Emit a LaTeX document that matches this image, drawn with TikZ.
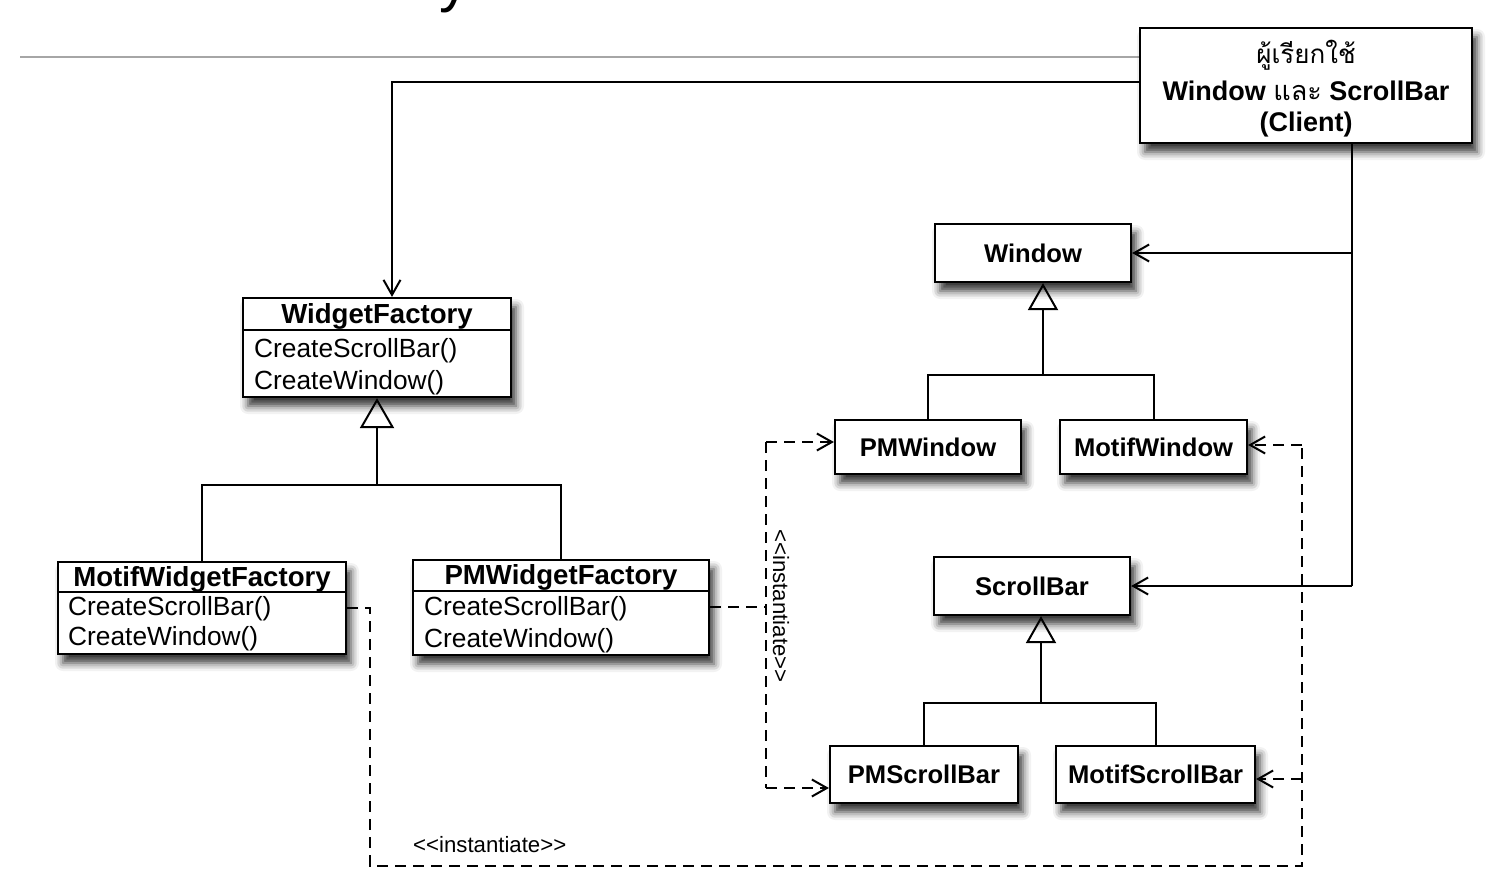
\documentclass[tikz,border=0pt]{standalone}
\usepackage{fontspec}
\setmainfont{Liberation Sans}
\newfontfamily\thaifont[Script=Thai]{Loma}
\usetikzlibrary{arrows.meta,shadows.blur}
\tikzset{
  boxshadow/.style={blur shadow={shadow xshift=5pt, shadow yshift=-9pt, shadow blur radius=8pt, shadow opacity=80}},
  cls/.style={draw=black, line width=2.2pt, fill=white, inner sep=0pt, boxshadow},
  clsname/.style={font=\bfseries\fontsize{25.6}{30}\selectfont, inner sep=0pt},
  ctitle/.style={font=\bfseries\fontsize{27.6}{30}\selectfont, inner sep=0pt},
  meth/.style={font=\fontsize{26.3}{30}\selectfont, inner sep=0pt, anchor=west},
  link/.style={line width=2pt},
  assoc/.style={line width=2pt, -{Straight Barb[length=15pt, width=17pt, line width=2pt]}},
  gen/.style={line width=2pt, -{Triangle[open, length=27pt, width=30pt, line width=2pt]}},
  genbig/.style={line width=2pt, -{Triangle[open, length=30pt, width=34pt, line width=2pt]}},
  dep/.style={line width=2pt, dash pattern=on 11pt off 7pt},
  deparrow/.style={dep, -{Straight Barb[length=15pt, width=17pt, line width=2pt]}},
  stereo/.style={font=\fontsize{22.2}{24}\selectfont, inner sep=0pt},
}
\begin{document}
\begin{tikzpicture}[x=1pt, y=-1pt]
\useasboundingbox (0,0) rectangle (1500,888);
% cut-off title glyph and rule
\node[anchor=base, font=\fontsize{60}{60}\selectfont, inner sep=0pt] (ttl) at (454,0.5) {y};
\draw[line width=2pt, draw=black!35] (20,57) coordinate (r1) -- (1140,57) coordinate (r2);

% client
\node[cls, minimum width=332pt, minimum height=115pt] (client) at (1306,85.5) {};
\node[font=\thaifont\fontsize{26}{30}\selectfont, inner sep=0pt] (cl1) at (1306,55) {ผู้เรียกใช้};
\node[font=\bfseries\fontsize{27}{30}\selectfont, inner sep=0pt] (cl2) at (1306,91) {Window {\mdseries\thaifont และ} ScrollBar};
\node[font=\bfseries\fontsize{27}{30}\selectfont, inner sep=0pt] (cl3) at (1306,125) {(Client)};

% product hierarchy: Window
\node[cls, minimum width=196pt, minimum height=58pt] (window) at (1033,253) {};
\node[clsname] (windowt) at (window.center) {Window};
\node[cls, minimum width=186pt, minimum height=54pt] (pmwindow) at (928,447) {};
\node[clsname] (pmwindowt) at (pmwindow.center) {PMWindow};
\node[cls, minimum width=187pt, minimum height=54pt] (motifwindow) at (1153.5,447) {};
\node[clsname] (motifwindowt) at (motifwindow.center) {MotifWindow};

% ScrollBar
\node[cls, minimum width=196pt, minimum height=58pt] (scrollbar) at (1032,586) {};
\node[clsname] (scrollbart) at (scrollbar.center) {ScrollBar};
\node[cls, minimum width=188pt, minimum height=57pt] (pmscrollbar) at (924,774.5) {};
\node[clsname] (pmscrollbart) at (pmscrollbar.center) {PMScrollBar};
\node[cls, minimum width=199pt, minimum height=57pt] (motifscrollbar) at (1155.5,774.5) {};
\node[clsname] (motifscrollbart) at (motifscrollbar.center) {MotifScrollBar};

% factories
\node[cls, minimum width=268pt, minimum height=99pt] (wf) at (377,347.5) {};
\draw[line width=2pt] (wf.west |- 0,330) -- (wf.east |- 0,330);
\node[ctitle] (wft) at (377,316) {WidgetFactory};
\node[meth] (wfm1) at (254,351) {CreateScrollBar()};
\node[meth] (wfm2) at (254,383) {CreateWindow()};

\node[cls, minimum width=288pt, minimum height=92pt] (mwf) at (202,608) {};
\draw[line width=2pt] (mwf.west |- 0,592) -- (mwf.east |- 0,592);
\node[ctitle] (mwft) at (202,579) {MotifWidgetFactory};
\node[meth] (mwfm1) at (68,609) {CreateScrollBar()};
\node[meth] (mwfm2) at (68,639) {CreateWindow()};

\node[cls, minimum width=296pt, minimum height=95pt] (pmwf) at (561,607.5) {};
\draw[line width=2pt] (pmwf.west |- 0,591) -- (pmwf.east |- 0,591);
\node[ctitle] (pmwft) at (561,577) {PMWidgetFactory};
\node[meth] (pmwfm1) at (424,609) {CreateScrollBar()};
\node[meth] (pmwfm2) at (424,641) {CreateWindow()};

% generalizations
\coordinate (wj) at (1043,375);
\draw[gen] (wj) -- (wj |- window.south);
\draw[link] (pmwindow.north) |- (wj) -| (motifwindow.north);
\coordinate (sj) at (1041,703);
\draw[gen] (sj) -- (sj |- scrollbar.south);
\draw[link] (pmscrollbar.north) |- (sj) -| (motifscrollbar.north);
\coordinate (fj) at (377,485);
\draw[genbig] (fj) -- (wf.south);
\draw[link] (mwf.north) |- (fj) -| (pmwf.north);

% client associations
\coordinate (ca) at (392,82);
\draw[assoc] (client.west |- ca) -| (wf.north -| ca);
\coordinate (c1) at (1352,253);
\coordinate (c2) at (1352,586);
\draw[link] (client.south -| c1) -- (c2);
\draw[assoc] (c1) -- (window.east);
\draw[assoc] (c2) -- (scrollbar.east);

% instantiate dependencies: Motif
\coordinate (md1) at (370,866);
\coordinate (md2) at (1302,866);
\coordinate (md3) at (1302,445);
\coordinate (md4) at (1302,779);
\draw[dep] (mwf.east) -| (md1) -- (md2) -- (md3);
\draw[deparrow] (md3) -- (motifwindow.east |- md3);
\draw[deparrow] (md4) -- (motifscrollbar.east |- md4);
\node[stereo, anchor=west] (st1) at (413,845) {<{}<instantiate>{}>};

% instantiate dependencies: PM
\coordinate (pd) at (766,607);
\coordinate (pd1) at (766,442);
\coordinate (pd2) at (766,788);
\draw[dep] (pmwf.east |- pd) -- (pd);
\draw[dep] (pd1) -- (pd2);
\draw[deparrow] (pd1) -- (pmwindow.west |- pd1);
\draw[deparrow] (pd2) -- (pmscrollbar.west |- pd2);
\node[stereo, rotate=-90] (st2) at (781,606) {<{}<instantiate>{}>};
\end{tikzpicture}
\end{document}
